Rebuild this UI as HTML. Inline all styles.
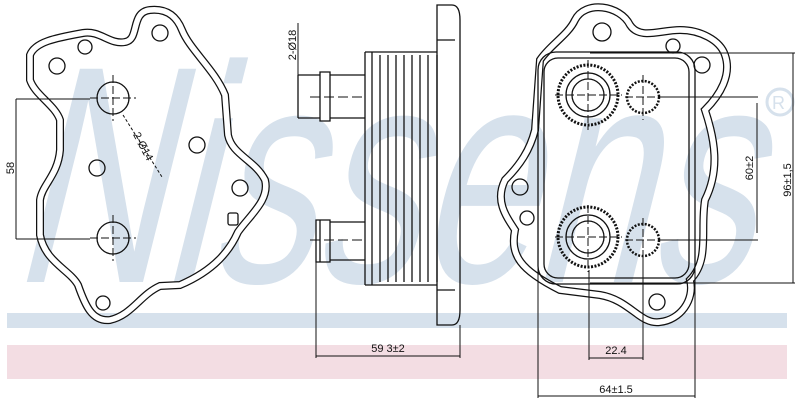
<!DOCTYPE html>
<html><head><style>
html,body{margin:0;padding:0;background:#fff;}
svg{display:block;}
text{font-family:"Liberation Sans",sans-serif;}
</style></head><body>
<svg width="800" height="404" viewBox="0 0 800 404" xmlns="http://www.w3.org/2000/svg">
<!-- watermark -->
<g transform="skewX(-14)">
<text x="80" y="282" font-size="310" fill="#d6e1ec" textLength="740" lengthAdjust="spacingAndGlyphs" font-family="Liberation Sans">Nissens</text>
</g>
<circle cx="780" cy="102" r="13" fill="none" stroke="#d6e1ec" stroke-width="3"/>
<text x="772" y="109" font-size="18" fill="#d6e1ec">R</text>
<rect x="7" y="313" width="780" height="15" fill="#d6e1ec"/>
<rect x="7" y="345" width="780" height="34" fill="#f3dde3"/>

<g fill="none" stroke="#111" stroke-width="1.3">
<!-- left gasket -->
<path d="M83,33 C100,30 110,45 125,42 C140,40 130,12 150,10 C170,8 178,20 182,30 C190,50 215,70 225,95 L228,135 C232,155 255,160 265,180 C270,200 250,215 238,232 C230,250 215,270 180,285 L160,286 C140,295 132,315 110,320 C92,322 85,305 78,285 C70,270 45,262 40,235 L40,200 C42,185 58,175 60,150 L60,120 C55,105 35,95 30,80 L30,55 C35,42 55,38 83,33 Z" stroke-width="8"/>
<path d="M83,33 C100,30 110,45 125,42 C140,40 130,12 150,10 C170,8 178,20 182,30 C190,50 215,70 225,95 L228,135 C232,155 255,160 265,180 C270,200 250,215 238,232 C230,250 215,270 180,285 L160,286 C140,295 132,315 110,320 C92,322 85,305 78,285 C70,270 45,262 40,235 L40,200 C42,185 58,175 60,150 L60,120 C55,105 35,95 30,80 L30,55 C35,42 55,38 83,33 Z" stroke="#fff" stroke-width="5.5"/>
<circle cx="113" cy="98" r="16"/><circle cx="113" cy="238" r="16"/>
<circle cx="57" cy="66" r="8"/><circle cx="85" cy="47" r="7"/><circle cx="160" cy="33" r="8"/>
<circle cx="197" cy="145" r="8"/><circle cx="97" cy="168" r="8"/><circle cx="240" cy="188" r="8"/>
<circle cx="103" cy="303" r="7"/><rect x="228" y="213" width="10" height="12" rx="2"/>
<path d="M113,75 V121 M90,98 H136 M113,215 V261 M90,238 H136" stroke-dasharray="8,3" stroke-width="1"/>
<path d="M16,99 H90 M16,239 H90 M16,99 V239" stroke-width="1"/>
<path d="M123,115 L162,177" stroke-dasharray="3,2" stroke-width="1"/>
<!-- middle side view -->
<path d="M437,5 H452 Q460,5 460,20 V310 Q460,325 452,325 H437 Z"/>
<path d="M437,40 H455 M437,290 H455"/>
<path d="M365,52 V285 M372,52 V285 M380,55 V282 M388,55 V282 M396,55 V282 M404,55 V282 M412,55 V282 M420,55 V282 M428,55 V282 M437,55 V282"/>
<path d="M365,52 H437 M365,285 H437"/>
<path d="M298,75 H320 M298,118 H320 M298,75 V118 M320,72 H330 V121 H320 Z M330,75 H365 M330,118 H365"/>
<path d="M310,97 H365" stroke-dasharray="10,4" stroke-width="1"/>
<path d="M316,220 H330 V262 H316 Z M330,222 H365 M330,260 H365 M320,220 V262"/>
<path d="M310,240 H365" stroke-dasharray="10,4" stroke-width="1"/>
<path d="M298,23 V118 M316,262 V358 M460,325 V358 M316,356 H460" stroke-width="1"/>
<!-- right gasket -->
<path d="M575,20 C585,0 620,5 630,25 C640,40 660,30 680,30 C700,30 720,40 725,55 C732,75 720,95 705,110 C715,140 720,170 705,200 C700,230 710,260 690,280 C695,300 680,320 660,322 C640,325 630,300 600,295 L560,290 C520,270 510,255 515,230 C505,215 495,200 505,180 C520,165 530,150 535,130 L540,60 C550,45 568,35 575,20 Z" stroke-width="8"/>
<path d="M575,20 C585,0 620,5 630,25 C640,40 660,30 680,30 C700,30 720,40 725,55 C732,75 720,95 705,110 C715,140 720,170 705,200 C700,230 710,260 690,280 C695,300 680,320 660,322 C640,325 630,300 600,295 L560,290 C520,270 510,255 515,230 C505,215 495,200 505,180 C520,165 530,150 535,130 L540,60 C550,45 568,35 575,20 Z" stroke="#fff" stroke-width="5.5"/>
<rect x="538" y="52" width="157" height="232" rx="18"/>
<rect x="544" y="58" width="145" height="220" rx="14"/>
<circle cx="588" cy="95" r="30" stroke-width="3" stroke-dasharray="2,1.5"/><circle cx="588" cy="95" r="22"/><circle cx="588" cy="95" r="16"/>
<circle cx="588" cy="237" r="30" stroke-width="3" stroke-dasharray="2,1.5"/><circle cx="588" cy="237" r="22"/><circle cx="588" cy="237" r="16"/>
<circle cx="643" cy="97" r="16" stroke-width="2.5" stroke-dasharray="2,1.5"/><circle cx="643" cy="240" r="16" stroke-width="2.5" stroke-dasharray="2,1.5"/>
<circle cx="602" cy="32" r="9"/><circle cx="673" cy="46" r="7"/><circle cx="702" cy="65" r="8"/>
<circle cx="520" cy="187" r="8"/><circle cx="527" cy="218" r="7"/><circle cx="657" cy="302" r="8"/>
<path d="M588,60 V130 M555,95 H622 M588,205 V272 M555,237 H622 M643,75 V120 M625,97 H662 M643,218 V262 M625,240 H662" stroke-dasharray="8,3" stroke-width="1"/>
<path d="M590,53 H795 M590,283 H795 M793,53 V283 M660,97 H758 M660,240 H758 M757,103 V233" stroke-width="1"/>
<path d="M538,260 V398 M695,260 V398 M538,396 H695 M589,270 V360 M643,250 V360 M589,358 H643" stroke-width="1"/>
</g>
<g fill="#111" font-size="11">
<text transform="translate(14,168) rotate(-90)" text-anchor="middle">58</text>
<text transform="translate(140,148) rotate(62)" text-anchor="middle">2-Ø14</text>
<text transform="translate(296,45) rotate(-90)" text-anchor="middle">2-Ø18</text>
<text x="388" y="352" text-anchor="middle">59 3±2</text>
<text x="616" y="354" text-anchor="middle">22.4</text>
<text x="616" y="393" text-anchor="middle">64±1.5</text>
<text transform="translate(753,168) rotate(-90)" text-anchor="middle">60±2</text>
<text transform="translate(791,180) rotate(-90)" text-anchor="middle">96±1,5</text>
</g>
</svg>
</body></html>
